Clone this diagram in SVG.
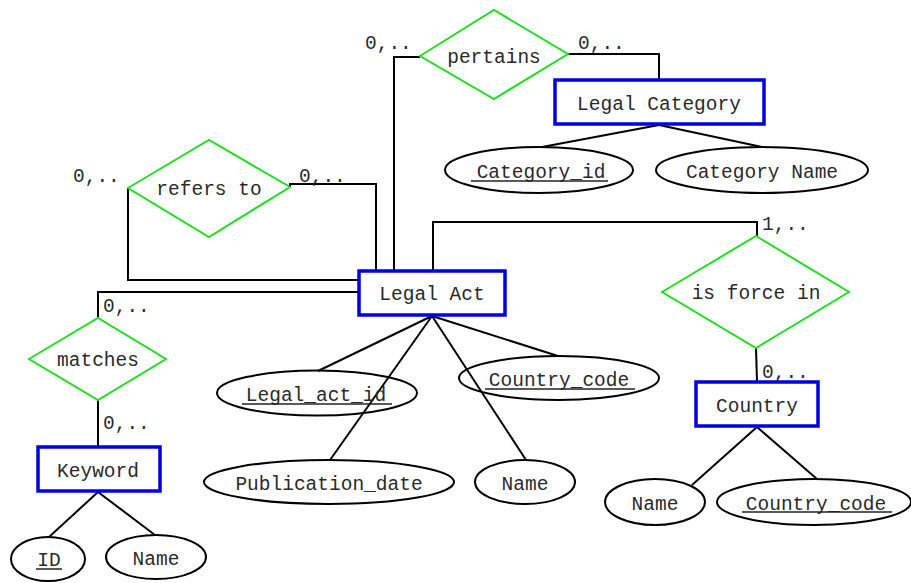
<svg xmlns="http://www.w3.org/2000/svg" width="911" height="583" viewBox="0 0 911 583">
<style>
text{font-family:"Liberation Mono","Courier New",monospace;font-size:19.5px;fill:#2a2a2a;text-anchor:middle}
.lbl{text-anchor:start}
.ent{fill:#fff;stroke:#0000e0;stroke-width:3.5}
.rel{fill:#fff;stroke:#22dd22;stroke-width:2}
.att{fill:none;stroke:#000;stroke-width:2}
.con{fill:none;stroke:#000;stroke-width:2}
.u{stroke:#222;stroke-width:1.5}
</style>
<rect width="911" height="583" fill="#fff"/>
<g id="connectors">
<polyline class="con" points="394,271 394,57 420,57"/>
<polyline class="con" points="568,54 659,54 659,80"/>
<polyline class="con" points="128,188 128,280 359,280"/>
<polyline class="con" points="290,187 290,184 376,184 376,271"/>
<polyline class="con" points="433,271 433,222 757,222 757,236"/>
<polyline class="con" points="359,292 98,292 98,318"/>
<line class="con" x1="98" y1="400" x2="98" y2="447"/>
<line class="con" x1="756" y1="348" x2="757" y2="382"/>
<line class="con" x1="659" y1="125" x2="542" y2="147"/>
<line class="con" x1="659" y1="125" x2="762" y2="147"/>
<line class="con" x1="432" y1="316" x2="318" y2="371"/>
<line class="con" x1="432" y1="316" x2="330" y2="460"/>
<line class="con" x1="432" y1="316" x2="526" y2="460"/>
<line class="con" x1="432" y1="316" x2="558" y2="356"/>
<line class="con" x1="757" y1="427" x2="692" y2="485"/>
<line class="con" x1="757" y1="427" x2="817" y2="479"/>
<line class="con" x1="98" y1="492" x2="49" y2="537"/>
<line class="con" x1="98" y1="492" x2="155" y2="535"/>
<text class="lbl" x="365" y="49">0,..</text>
<text class="lbl" x="578" y="49">0,..</text>
<text class="lbl" x="73" y="182">0,..</text>
<text class="lbl" x="299" y="182">0,..</text>
<text class="lbl" x="762" y="230">1,..</text>
<text class="lbl" x="103" y="312">0,..</text>
<text class="lbl" x="103" y="429">0,..</text>
<text class="lbl" x="762" y="378">0,..</text>
</g>
<g id="pertains">
<polygon class="rel" points="420,56 494,10 568,54 494,99"/>
<text x="494" y="63">pertains</text>
</g>
<g id="refers_to">
<polygon class="rel" points="128,188 209,140 290,187 209,237"/>
<text x="209" y="195">refers to</text>
</g>
<g id="is_force_in">
<polygon class="rel" points="662,292 756,236 849,292 756,348"/>
<text x="756" y="299">is force in</text>
</g>
<g id="matches">
<polygon class="rel" points="29,359 98,318 166,359 98,400"/>
<text x="98" y="366">matches</text>
</g>
<g id="legal_category">
<rect class="ent" x="555" y="80" width="209" height="44"/>
<text x="659" y="110">Legal Category</text>
</g>
<g id="legal_act">
<rect class="ent" x="359" y="271" width="146" height="44"/>
<text x="432" y="300">Legal Act</text>
</g>
<g id="country">
<rect class="ent" x="696" y="382" width="122" height="44"/>
<text x="757" y="412">Country</text>
</g>
<g id="keyword">
<rect class="ent" x="38" y="447" width="122" height="44"/>
<text x="98" y="477">Keyword</text>
</g>
<g id="category_id">
<ellipse class="att" cx="539" cy="170" rx="94" ry="23"/>
<text x="541" y="178">Category_id</text>
<line class="u" x1="471" y1="181" x2="608" y2="181"/>
</g>
<g id="category_name">
<ellipse class="att" cx="762" cy="170" rx="106" ry="23"/>
<text x="762" y="178">Category Name</text>
</g>
<g id="legal_act_id">
<ellipse class="att" cx="317" cy="393" rx="100" ry="22.5"/>
<text x="316" y="401">Legal_act_id</text>
<line class="u" x1="242" y1="404" x2="392" y2="404"/>
</g>
<g id="la_country_code">
<ellipse class="att" cx="559" cy="378" rx="100" ry="22"/>
<text x="559" y="386">Country_code</text>
<line class="u" x1="485" y1="389" x2="635" y2="389"/>
</g>
<g id="publication_date">
<ellipse class="att" cx="329" cy="482" rx="125" ry="22"/>
<text x="329" y="490">Publication_date</text>
</g>
<g id="la_name">
<ellipse class="att" cx="525" cy="482" rx="50" ry="22"/>
<text x="525" y="490">Name</text>
</g>
<g id="c_name">
<ellipse class="att" cx="655" cy="502" rx="50" ry="23"/>
<text x="655" y="510">Name</text>
</g>
<g id="c_country_code">
<ellipse class="att" cx="814" cy="502" rx="97" ry="23"/>
<text x="816" y="510">Country_code</text>
<line class="u" x1="742" y1="512" x2="892" y2="512"/>
</g>
<g id="k_id">
<ellipse class="att" cx="48" cy="559" rx="37" ry="22"/>
<text x="49" y="566">ID</text>
<line class="u" x1="36" y1="569" x2="62" y2="569"/>
</g>
<g id="k_name">
<ellipse class="att" cx="156" cy="557" rx="50" ry="22"/>
<text x="156" y="565">Name</text>
</g>
</svg>
